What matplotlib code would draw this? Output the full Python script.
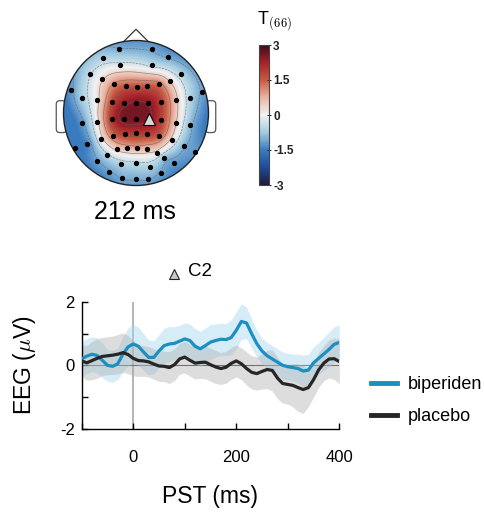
import numpy as np
import matplotlib
matplotlib.use("Agg")
import matplotlib.pyplot as plt
from matplotlib.colors import LinearSegmentedColormap
from matplotlib.patches import Circle, FancyBboxPatch
from matplotlib.lines import Line2D

plt.rcParams['font.family'] = ['Liberation Sans', 'DejaVu Sans']
plt.rcParams['mathtext.fontset'] = 'cm'

# ---------------- ERP data ----------------
time_ms = [-100, -90, -80, -70, -60, -50, -40, -30, -20, -10,
           0, 10, 20, 30, 40, 50, 60, 70, 80, 90,
           100, 110, 120, 130, 140, 150, 160, 170, 180, 190,
           200, 210, 220, 230, 240, 250, 260, 270, 280, 290,
           300, 310, 320, 330, 340, 350, 360, 370, 380, 390, 400]

biperiden_mean = [0.21, 0.29, 0.35, 0.31, 0.16, 0.00, -0.03, 0.05, 0.35, 0.58,
                  0.67, 0.60, 0.42, 0.25, 0.25, 0.45, 0.62, 0.67, 0.69, 0.76,
                  0.83, 0.78, 0.60, 0.52, 0.62, 0.73, 0.78, 0.82, 0.81, 0.87,
                  1.10, 1.38, 1.33, 0.99, 0.68, 0.45, 0.30, 0.20, 0.10, 0.00,
                  -0.04, -0.07, -0.10, -0.18, -0.15, 0.08, 0.22, 0.36, 0.50, 0.66, 0.72]

placebo_mean = [0.14, 0.08, 0.15, 0.22, 0.28, 0.30, 0.32, 0.35, 0.40, 0.34,
                0.22, 0.15, 0.14, 0.11, 0.04, -0.02, -0.03, -0.07, 0.02, 0.20,
                0.26, 0.16, 0.07, 0.09, 0.10, 0.02, -0.05, -0.10, -0.06, 0.06,
                0.14, 0.05, -0.10, -0.22, -0.26, -0.19, -0.13, -0.16, -0.40, -0.57,
                -0.60, -0.63, -0.70, -0.76, -0.70, -0.45, -0.14, 0.07, 0.20, 0.21, 0.12]

biperiden_sem = [0.55, 0.55, 0.55, 0.55, 0.55, 0.50, 0.50, 0.50, 0.55, 0.60,
                 0.62, 0.60, 0.58, 0.55, 0.52, 0.52, 0.55, 0.55, 0.52, 0.50,
                 0.50, 0.52, 0.55, 0.55, 0.55, 0.55, 0.52, 0.50, 0.50, 0.55,
                 0.58, 0.56, 0.50, 0.45, 0.42, 0.40, 0.42, 0.42, 0.42, 0.42,
                 0.42, 0.42, 0.45, 0.50, 0.50, 0.50, 0.50, 0.52, 0.55, 0.55, 0.55]

placebo_sem = [0.50, 0.55, 0.60, 0.62, 0.60, 0.60, 0.60, 0.62, 0.62, 0.60,
               0.55, 0.50, 0.48, 0.48, 0.48, 0.48, 0.48, 0.50, 0.50, 0.48,
               0.50, 0.50, 0.50, 0.50, 0.52, 0.52, 0.52, 0.50, 0.50, 0.50,
               0.50, 0.50, 0.52, 0.52, 0.52, 0.55, 0.60, 0.65, 0.65, 0.62,
               0.62, 0.68, 0.75, 0.75, 0.60, 0.55, 0.55, 0.55, 0.60, 0.65, 0.70]

series_names = ['biperiden', 'placebo']

# ---------------- Topography data ----------------
elec_x = [-0.229, 0.216, -0.450, 0.445, -0.220, 0.225, -0.633, 0.615,
          -0.463, -0.298, -0.142, 0.009, 0.156, 0.317, 0.468,
          -0.899, 0.904,
          -0.743, -0.532, -0.335, -0.165, 0.000, 0.170, 0.344, 0.550, 0.743,
          -0.748, -0.532, -0.335, -0.165, 0.000, 0.174, 0.344, 0.550, 0.743,
          -0.486, -0.312, -0.151, 0.000, 0.156, 0.317, 0.491,
          -0.839, -0.679, 0.665, 0.812,
          -0.257, -0.119, 0.009, 0.156, 0.284,
          -0.541, -0.404, -0.206, 0.000, 0.193, 0.390, 0.528,
          -0.367, 0.344, -0.188, 0.000, 0.170]
elec_y = [0.876, 0.876, 0.752, 0.771, 0.661, 0.661, 0.541, 0.541,
          0.463, 0.404, 0.372, 0.362, 0.372, 0.404, 0.440,
          0.312, 0.294,
          0.211, 0.174, 0.151, 0.142, 0.142, 0.142, 0.151, 0.174, 0.202,
          -0.142, -0.119, -0.087, -0.078, -0.078, -0.087, -0.101, -0.133, -0.170,
          -0.362, -0.317, -0.284, -0.275, -0.284, -0.317, -0.372,
          -0.477, -0.431, -0.454, -0.532,
          -0.500, -0.482, -0.482, -0.491, -0.546,
          -0.661, -0.583, -0.706, -0.683, -0.739, -0.615, -0.693,
          -0.812, -0.821, -0.890, -0.904, -0.904]
t_values = [-1.0, -1.1, -0.6, -1.1, -0.2, -0.5, -0.4, -0.6,
            0.3, 1.1, 1.5, 1.6, 1.5, 1.2, 0.3,
            -1.2, -1.1,
            -0.6, 0.2, 1.7, 2.3, 2.5, 2.4, 1.8, 0.5, -0.6,
            -1.2, 0.2, 2.0, 2.6, 2.6, 2.5, 1.8, 0.4, -0.9,
            0.1, 1.4, 1.9, 2.0, 1.9, 1.5, 0.2,
            -1.5, -1.4, -1.0, -1.2,
            0.5, 0.8, 0.9, 0.7, 0.2,
            -1.1, -0.5, -0.6, -0.4, -0.6, -0.8, -1.2,
            -1.1, -1.1, -1.0, -1.0, -1.0]
marked_channel = 'C2'
marked_index = 31
latency_label = '212 ms'
cbar_ticks = [-3, -1.5, 0, 1.5, 3]
cbar_ticklabels = ['-3', '-1.5', '0', '1.5', '3']

W, H = 485, 513
fig = plt.figure(figsize=(W / 100, H / 100), dpi=100)


def fx(px):
    return px / W


def fy(py):
    return 1 - py / H


# ---------------- topomap ----------------
cmap = LinearSegmentedColormap.from_list('tmap', [
    (0.000, '#1c1b3e'), (0.125, '#1f4b98'), (0.25, '#3a7bbf'),
    (0.375, '#a3cbe0'), (0.5, '#f2f2f2'), (0.625, '#eab5a3'),
    (0.75, '#c95a41'), (0.875, '#a5222a'), (1.0, '#3f0b1b')])

R = 72.5
cx, cy = 136, 113
axt = fig.add_axes([fx(cx - 1.2 * R), fy(cy + 1.2 * R), fx(2.4 * R), (2.4 * R) / H])
axt.set_xlim(-1.2, 1.2)
axt.set_ylim(-1.2, 1.2)
axt.axis('off')

ex = np.array(elec_x)
ey = np.array(elec_y)
ev = np.array(t_values)


def green(d):
    ds = np.where(d > 0, d, 1.0)
    return np.where(d > 0, ds ** 2 * (np.log(ds) - 1), 0.0)


Gm = green(np.hypot(ex[:, None] - ex[None, :], ey[:, None] - ey[None, :]))
wts = np.linalg.solve(Gm, ev)
g = np.linspace(-1, 1, 241)
GX, GY = np.meshgrid(g, g)
Dg = np.hypot(GX.ravel()[:, None] - ex[None, :], GY.ravel()[:, None] - ey[None, :])
Z = (green(Dg) @ wts).reshape(GX.shape)
Z = np.clip(Z, ev.min(), ev.max())
Zm = np.where(GX ** 2 + GY ** 2 <= 1.02, Z, np.nan)

# ears and nose
for s in (-1, 1):
    ear = FancyBboxPatch((0.96 if s > 0 else -1.10, -0.27), 0.14, 0.44,
                         boxstyle='round,pad=0,rounding_size=0.05',
                         fc='white', ec='#555555', lw=0.9, zorder=1)
    axt.add_patch(ear)
axt.plot([-0.17, 0, 0.17], [0.985, 1.155, 0.985], color='#333333', lw=0.9, zorder=1)

clip = Circle((0, 0), 1.0, transform=axt.transData, fc='none', ec='none')
im = axt.imshow(Zm, extent=[-1, 1, -1, 1], origin='lower', cmap=cmap,
                vmin=-3, vmax=3, interpolation='bilinear', zorder=2)
im.set_clip_path(clip)
cs = axt.contour(GX, GY, Zm, levels=[-1.05, -0.35, 0.35, 1.05, 1.75, 2.45],
                 colors='#606060', linewidths=0.45, alpha=0.75, zorder=3)
cs.set_clip_path(clip)
axt.add_patch(Circle((0, 0), 1.0, fc='none', ec='#222222', lw=1.0, zorder=4))
axt.plot(np.delete(ex, marked_index), np.delete(ey, marked_index), 'o', color='black',
         ms=2.8, zorder=5)
axt.plot(ex[marked_index], ey[marked_index], '^', mfc='#d9d9d9', mec='black',
         mew=0.8, ms=8, zorder=6)

# colorbar
cax = fig.add_axes([fx(259), fy(185), fx(10), 140 / H])
cb = fig.colorbar(im, cax=cax, ticks=cbar_ticks)
cb.ax.set_yticklabels(cbar_ticklabels, fontsize=8.5, fontweight='bold')
cb.ax.tick_params(direction='inout', length=3, width=0.7, pad=1.5, colors='#222222')
cb.outline.set_edgecolor('#444444')
cb.outline.set_linewidth(0.8)
fig.text(fx(257), fy(21), 'T$_{(66)}$', fontsize=13, ha='left', va='center')

fig.text(fx(134.5), fy(212), latency_label, fontsize=18, ha='center', va='center')

# ---------------- ERP plot ----------------
ax = fig.add_axes([fx(81.7), fy(429), fx(257.6), 127.3 / H])
t = np.array(time_ms)
bm, pm = np.array(biperiden_mean), np.array(placebo_mean)
bs, ps = np.array(biperiden_sem), np.array(placebo_sem)

ax.axvline(0, color='#b0b0b0', lw=1.3, zorder=1)
ax.axhline(0, color='#4d4d4d', lw=0.8, zorder=1)
ax.fill_between(t, bm - bs, bm + bs, color='#a6d9f0', alpha=0.45, lw=0, zorder=2)
ax.fill_between(t, pm - ps, pm + ps, color='#ababab', alpha=0.40, lw=0, zorder=2)
ax.plot(t, bm, color='#1b8ec2', lw=2.3, zorder=4, solid_capstyle='round')
ax.plot(t, pm, color='#262626', lw=2.3, zorder=4, solid_capstyle='round')

ax.set_xlim(-100, 400)
ax.set_ylim(-2, 2)
ax.set_xticks([-100, 0, 100, 200, 300, 400])
ax.set_xticklabels(['', '0', '', '200', '', '400'])
ax.set_yticks([-2, -1, 0, 1, 2])
ax.set_yticklabels(['-2', '', '0', '', '2'])
for sp in ('top', 'right'):
    ax.spines[sp].set_visible(False)
for sp in ('left', 'bottom'):
    ax.spines[sp].set_linewidth(1.0)
ax.tick_params(direction='in', length=4, width=1.0, labelsize=12)
ax.tick_params(axis='x', pad=15)
ax.tick_params(axis='y', pad=5)
ax.set_xlabel('PST (ms)', fontsize=16.5)
ax.set_ylabel('EEG ($\\mu$V)', fontsize=16.5)
ax.xaxis.set_label_coords(0.5, (429 - 485) / 127.3)
ax.yaxis.set_label_coords((38 - 81.7) / 257.6, 0.5)

# channel title with marker
fig.text(fx(188), fy(272), marked_channel, fontsize=13.5, ha='left', va='center')
fig.add_artist(Line2D([fx(173.8)], [fy(273.5)], marker='^', mfc='#c8c8c8', mec='#222222',
                      mew=0.8, ms=6.5, transform=fig.transFigure))

handles = [Line2D([], [], color='#1b8ec2', lw=3.5),
           Line2D([], [], color='#262626', lw=3.5)]
fig.legend(handles, series_names, loc='center left',
           bbox_to_anchor=(fx(370.7), fy(400.8)), frameon=False, fontsize=13,
           handlelength=1.45, handletextpad=0.6, labelspacing=0.85,
           borderpad=0, borderaxespad=0)

fig.savefig('out.png', dpi=100)
